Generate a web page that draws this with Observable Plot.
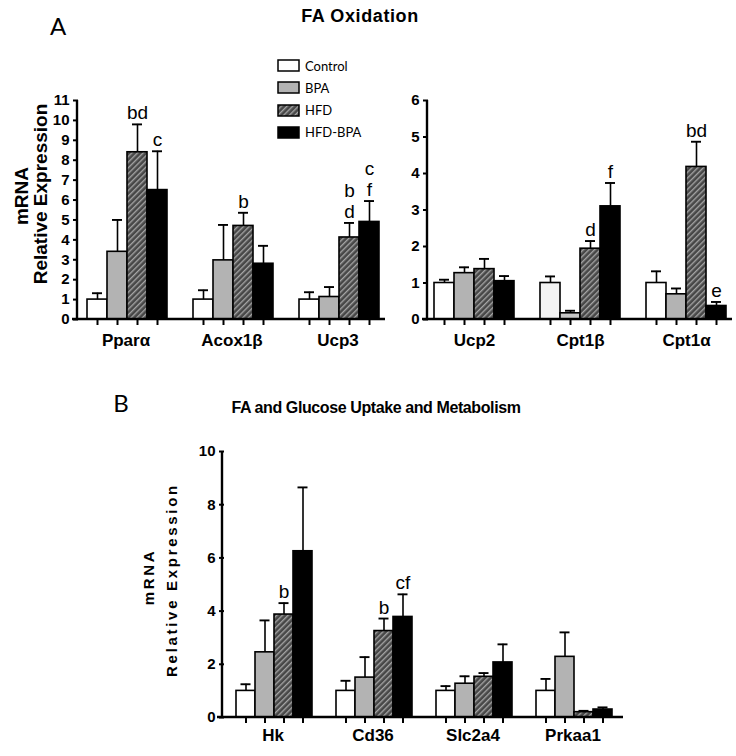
<!DOCTYPE html>
<html><head><meta charset="utf-8">
<script src="https://cdn.jsdelivr.net/npm/d3@7"></script>
<script src="https://cdn.jsdelivr.net/npm/@observablehq/plot@0.6"></script>
<style>
body{margin:0;background:#fff;}
#root{position:relative;width:736px;height:756px;overflow:hidden;font-family:"Liberation Sans",Arial,sans-serif;color:#000;}
.t{position:absolute;white-space:nowrap;line-height:1;}
.c{transform:translate(-50%,-50%);}
.r{transform:translate(-50%,-50%) rotate(-90deg);}
</style></head><body>
<svg width="0" height="0" style="position:absolute">
<defs>
<pattern id="hatch" patternUnits="userSpaceOnUse" width="4" height="4" patternTransform="rotate(45)">
<rect width="4" height="4" fill="#474747"/>
<line x1="0.7" y1="0" x2="0.7" y2="4" stroke="#a9a9a9" stroke-width="1.3"/>
</pattern></defs></svg>
<div id="root"></div>
<script>
// ---------- data ----------
const treatments = ["Control", "BPA", "HFD", "HFD-BPA"];
const fills = ["#ffffff", "#b3b3b3", "url(#hatch)", "#000000"];

const genesA1 = ["Pparα", "Acox1β", "Ucp3"];
const meanA1 = [[1.0, 3.4, 8.4, 6.5], [1.0, 2.97, 4.7, 2.8], [1.0, 1.13, 4.12, 4.9]];
const errA1  = [[1.32, 5.0, 9.8, 8.45], [1.47, 4.75, 5.36, 3.7], [1.37, 1.63, 4.85, 5.95]];
const sigA1  = [["Pparα", "HFD", "bd"], ["Pparα", "HFD-BPA", "c"], ["Acox1β", "HFD", "b"], ["Ucp3", "HFD", "b\nd"], ["Ucp3", "HFD-BPA", "c\nf"]];
const ticksA1 = [0, 1, 2, 3, 4, 5, 6, 7, 8, 9, 10, 11];

const genesA2 = ["Ucp2", "Cpt1β", "Cpt1α"];
const meanA2 = [[1.0, 1.27, 1.38, 1.05], [1.0, 0.17, 1.94, 3.1], [1.0, 0.69, 4.18, 0.37]];
const errA2  = [[1.09, 1.43, 1.66, 1.19], [1.18, 0.24, 2.15, 3.74], [1.32, 0.85, 4.87, 0.48]];
const sigA2  = [["Cpt1β", "HFD", "d"], ["Cpt1β", "HFD-BPA", "f"], ["Cpt1α", "HFD", "bd"], ["Cpt1α", "HFD-BPA", "e"]];
const ticksA2 = [0, 1, 2, 3, 4, 5, 6];

const genesB = ["Hk", "Cd36", "Slc2a4", "Prkaa1"];
const meanB = [[1.0, 2.45, 3.87, 6.25], [1.0, 1.5, 3.25, 3.78], [1.0, 1.27, 1.53, 2.07], [1.0, 2.28, 0.2, 0.3]];
const errB  = [[1.25, 3.65, 4.3, 8.65], [1.38, 2.27, 3.72, 4.63], [1.18, 1.55, 1.67, 2.75], [1.45, 3.2, 0.25, 0.38]];
const sigB  = [["Hk", "HFD", "b"], ["Cd36", "HFD", "b"], ["Cd36", "HFD-BPA", "cf"]];
const ticksB = [0, 2, 4, 6, 8, 10];

const root = document.getElementById("root");
const FONT = "'Liberation Sans', Arial, sans-serif";

function panel(cfg) {
  const rows = cfg.genes.flatMap((g, i) => treatments.map((t, j) => ({
    gene: g, t, v: cfg.mean[i][j], e: cfg.err[i][j],
    fill: (cfg.override && cfg.override[g + "|" + t]) || fills[j]
  })));
  const sig = cfg.sig.map(([g, t, label]) => ({...rows.find(r => r.gene === g && r.t === t), label}));
  const plot = Plot.plot({
    width: cfg.width, height: cfg.height,
    marginLeft: cfg.ml, marginRight: cfg.mr, marginTop: cfg.mt, marginBottom: cfg.mb,
    style: {fontFamily: FONT, fontSize: "15px", background: "none", overflow: "visible", color: "#000"},
    fx: {domain: cfg.genes, paddingInner: cfg.fxPad, paddingOuter: 0},
    x: {domain: treatments, paddingInner: 0, paddingOuter: cfg.xPad, align: cfg.xAlign},
    y: {domain: [0, cfg.yMax]},
    color: {type: "identity"},
    marks: [
      Plot.barY(rows, {fx: "gene", x: "t", y: "v", fill: d => d.fill, stroke: "#000", strokeWidth: 1.6}),
      Plot.ruleX(rows, {fx: "gene", x: "t", y1: "v", y2: "e", stroke: "#000", strokeWidth: 1.6}),
      Plot.tickY(rows, {fx: "gene", x: "t", y: "e", stroke: "#000", strokeWidth: 1.9, insetLeft: cfg.cap, insetRight: cfg.cap}),
      Plot.text(sig, {fx: "gene", x: "t", y: "e", text: "label", dy: -5, lineAnchor: "bottom", lineHeight: 1.12,
        fontSize: 19, fontFamily: FONT, fill: "#000"}),
      Plot.axisY({ticks: cfg.ticks, tickSize: 5, tickPadding: 4, strokeWidth: 2, fontWeight: "bold", fontSize: 15, label: null, tickFormat: d => String(d)}),
      Plot.axisX({tickSize: 6, strokeWidth: 2, tickFormat: () => "", label: null}),
      Plot.axisFx({anchor: "bottom", tickSize: 0, tickPadding: cfg.labPad, fontWeight: "bold", fontSize: 17, label: null})
    ]
  });
  const svg = plot.tagName.toLowerCase() === "svg" ? plot : plot.querySelector("svg");
  const y = plot.scale("y");
  const s = d3.select(svg);
  s.append("line").attr("x1", cfg.ml).attr("x2", cfg.ml)
    .attr("y1", y.apply(0) + 1).attr("y2", y.apply(cfg.yMax))
    .attr("stroke", "#000").attr("stroke-width", 2.4);
  s.append("line").attr("x1", cfg.ml - 5).attr("x2", cfg.width - cfg.mr)
    .attr("y1", y.apply(0)).attr("y2", y.apply(0))
    .attr("stroke", "#000").attr("stroke-width", 2.4);
  plot.style.position = "absolute";
  plot.style.left = cfg.left + "px";
  plot.style.top = cfg.top + "px";
  plot.style.maxWidth = "none";
  root.appendChild(plot);
}

panel({genes: genesA1, mean: meanA1, err: errA1, sig: sigA1, ticks: ticksA1, yMax: 11,
  left: 0, top: 0, width: 390, height: 359, ml: 77, mr: 5, mt: 100, mb: 40,
  fxPad: 0.108, xPad: 0.289, xAlign: 0.583, cap: 5, labPad: 14});

panel({genes: genesA2, mean: meanA2, err: errA2, sig: sigA2, ticks: ticksA2, yMax: 6,
  left: 380, top: 0, width: 356, height: 359, ml: 47, mr: 4, mt: 100, mb: 40,
  fxPad: 0.136, xPad: 0.244, xAlign: 0.5, cap: 5, labPad: 14,
  override: {"Cpt1β|Control": "#f3f3f3", "Cpt1β|BPA": "#c8c8c8"}});

panel({genes: genesB, mean: meanB, err: errB, sig: sigB, ticks: ticksB, yMax: 10,
  left: 0, top: 380, width: 640, height: 376, ml: 222, mr: 17, mt: 71, mb: 39,
  fxPad: 0.0297, xPad: 0.513, xAlign: 0.55, cap: 4.5, labPad: 11});

// ---------- texts ----------
function txt(s, x, y, css, cls) {
  const d = document.createElement("div");
  d.className = "t " + (cls || "c");
  d.textContent = s;
  d.style.left = x + "px"; d.style.top = y + "px";
  Object.assign(d.style, css || {});
  root.appendChild(d);
}
txt("FA Oxidation", 360, 16, {fontWeight: "bold", fontSize: "18px", letterSpacing: "0.6px"});
txt("A", 58, 26, {fontFamily: "Lato, sans-serif", fontSize: "24px"});
txt("B", 121, 403, {fontFamily: "Lato, sans-serif", fontSize: "24px"});
txt("FA and Glucose Uptake and Metabolism", 376, 408, {fontWeight: "bold", fontSize: "16px", letterSpacing: "-0.4px"});
txt("mRNA", 21, 196, {fontWeight: "bold", fontSize: "19px"}, "r");
txt("Relative Expression", 40, 194, {fontWeight: "bold", fontSize: "19px"}, "r");
txt("mRNA", 148, 577, {fontWeight: "bold", fontSize: "15px", letterSpacing: "2.7px"}, "r");
txt("Relative Expression", 171, 580, {fontWeight: "bold", fontSize: "15px", letterSpacing: "2.7px"}, "r");

// ---------- legend ----------
treatments.forEach((t, i) => {
  const top = 60 + i * 22.3;
  const sw = document.createElementNS("http://www.w3.org/2000/svg", "svg");
  sw.setAttribute("width", 24); sw.setAttribute("height", 14);
  sw.style.position = "absolute"; sw.style.left = "277px"; sw.style.top = (top - 1) + "px";
  const r = document.createElementNS("http://www.w3.org/2000/svg", "rect");
  r.setAttribute("x", 1); r.setAttribute("y", 1); r.setAttribute("width", 21); r.setAttribute("height", 11);
  r.setAttribute("fill", fills[i]); r.setAttribute("stroke", "#000"); r.setAttribute("stroke-width", 1.5);
  sw.appendChild(r); root.appendChild(sw);
  txt(t, 305, top + 5.5, {fontFamily: "Lato, sans-serif", fontSize: "13px", transform: "translate(0,-50%)"});
});
</script>
</body></html>
